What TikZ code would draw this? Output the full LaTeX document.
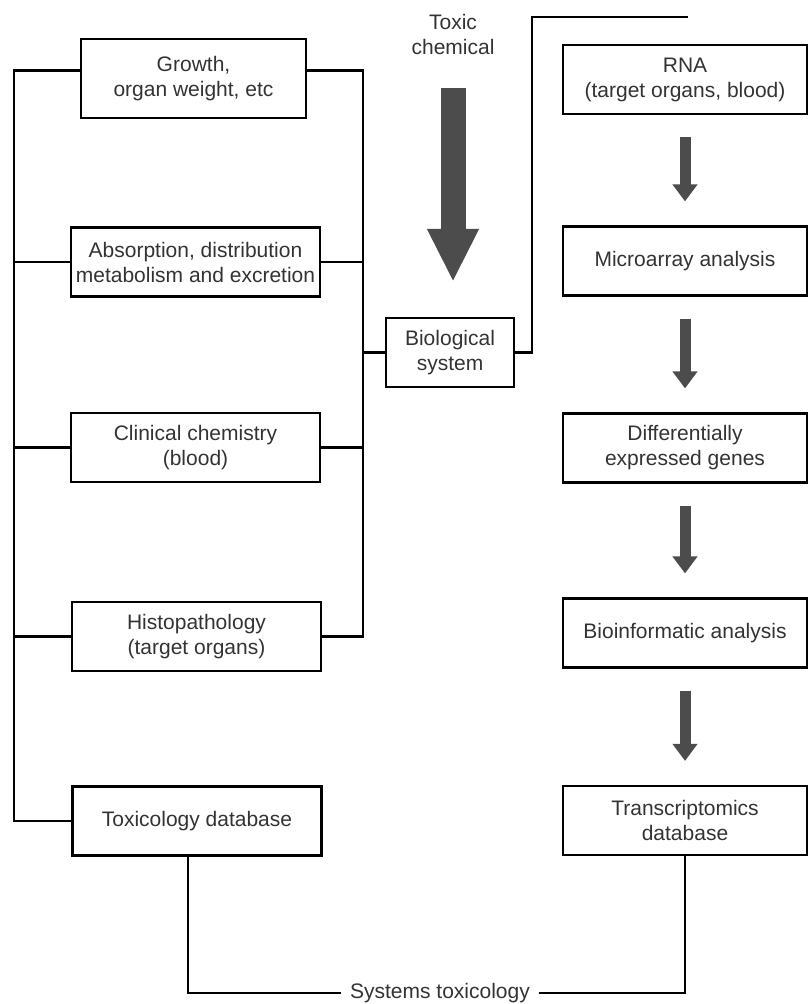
\documentclass[tikz,border=0pt]{standalone}
\usepackage{fontspec}
\setmainfont{Liberation Sans}
\usetikzlibrary{calc}
\usetikzlibrary{arrows.meta}

\begin{document}
\begin{tikzpicture}[x=0.5pt, y=-0.5pt, line width=1.1pt, font=\fontsize{10.5}{12.5}\selectfont]
\tikzset{box/.style={draw,align=center,inner sep=2pt,minimum height=34.5pt,text=black!80}}
\tikzset{lbox/.style={box,minimum width=124.5pt}}
\tikzset{rbox/.style={box,minimum width=122pt}}
\tikzset{fatarrow/.style={draw=black!70,line width=5.5pt,-{Triangle[length=8.5pt,width=12pt]},shorten <=11pt,shorten >=12pt}}
\tikzset{bigarrow/.style={draw=black!70,line width=12.5pt,-{Triangle[length=26.5pt,width=24pt]},shorten <=16pt,shorten >=17.5pt}}

\useasboundingbox (0,0) rectangle (809,1004);

% left column - the classic toxicology
\node[box,minimum width=112.5pt,minimum height=39.5pt] (growth) at (193.5,78.5) {Growth,\\organ weight, etc};
\node[lbox] (adme) at (195.5,262) {Absorption, distribution\\metabolism and excretion};
\node[lbox] (clin) at (195.5,447.5) {Clinical chemistry\\(blood)};
\node[lbox] (histo) at (196.5,636.5) {Histopathology\\(target organs)};
\node[lbox] (toxdb) at (197,821) {Toxicology database};

% middle
\node[align=center,inner sep=0,text=black!80] (toxic) at (453,35) {Toxic\\chemical};
\node[box,minimum width=64pt] (bio) at (450,352.5) {Biological\\system};

% right column - transcriptomics
\node[rbox] (rna) at (685,79.5) {RNA\\(target organs, blood)};
\node[rbox] (micro) at (685,261) {Microarray analysis};
\node[rbox] (deg) at (685,448) {Differentially\\expressed genes};
\node[rbox] (bioinf) at (685,633) {Bioinformatic analysis};
\node[rbox] (trans) at (685,820.5) {Transcriptomics\\database};

\node[inner sep=4pt,text=black!80] (systox) at (440,993) {Systems toxicology};

\coordinate (lbus) at (14,0);
\coordinate (rbus) at (363,0);
\coordinate (bend) at (532,17);
\coordinate (rtop) at (688,17);

% bus on the left
\draw ([yshift=4pt]growth.west) -| (lbus |- toxdb.west) -- (toxdb.west);
\foreach \n in {adme,clin,histo}
  \draw (\n.west) -- (lbus |- \n.west);

% bus on the right
\draw ([yshift=4pt]growth.east) -| (rbus |- histo.east) -- (histo.east);
\foreach \n in {adme,clin}
  \draw (\n.east) -- (rbus |- \n.east);
\draw (bio.west) -- (rbus |- bio.west);
\draw (bio.east) -| (bend) -- (rtop);

% fat arrows
\draw[bigarrow] (toxic) -- (toxic |- bio.north);
\foreach \a/\b in {rna/micro,micro/deg,deg/bioinf,bioinf/trans}
  \draw[fatarrow] (\a) -- (\b);

% both databases meet
\draw ([xshift=-4.5pt]toxdb.south) |- (systox.west);
\draw (systox.east) -| (trans.south);

\end{tikzpicture}
\end{document}
